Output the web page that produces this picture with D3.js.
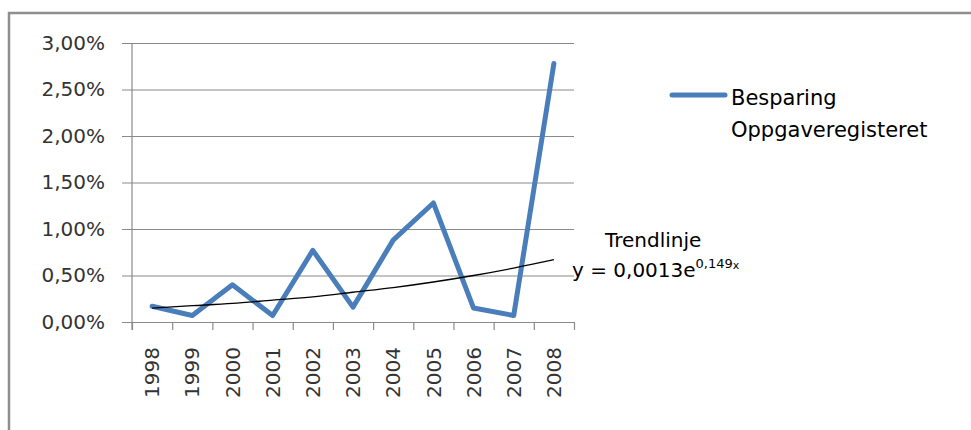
<!DOCTYPE html>
<html>
<head>
<meta charset="utf-8">
<script src="https://cdn.jsdelivr.net/npm/d3@7"></script>
<style>
  body { margin: 0; background: #fff; }
  text { font-family: "DejaVu Sans", sans-serif; }
</style>
</head>
<body>
<div id="chart"></div>
<script>
var years = ["1998", "1999", "2000", "2001", "2002", "2003", "2004", "2005", "2006", "2007", "2008"];
var besparing = [0.0017, 0.0007, 0.0040, 0.0007, 0.0077, 0.0016, 0.0088, 0.0128, 0.0015, 0.0007, 0.0278];
var trendValues = [0.0015, 0.00175, 0.0020, 0.00235, 0.0027, 0.0032, 0.0037, 0.0043, 0.0050, 0.0058, 0.0067];
var yTicks = [0, 0.005, 0.01, 0.015, 0.02, 0.025, 0.03];
var seriesName = ["Besparing", "Oppgaveregisteret"];

var svgWidth = 971;
var svgHeight = 430;
var plot = { left: 132, right: 574, top: 43, bottom: 322 };

var svg = d3.select("#chart")
  .append("svg")
  .attr("width", svgWidth)
  .attr("height", svgHeight);

// frame of the chart object (only top and left edges visible)
svg.append("path")
  .attr("d", "M9,430 V13 H971")
  .attr("fill", "none")
  .attr("stroke", "#8e8e8e")
  .attr("stroke-width", 2.5);

var locale = d3.formatLocale({ decimal: ",", thousands: " ", grouping: [3], currency: ["", " kr"] });
var pct = locale.format(".2%");

var xBand = d3.scaleBand()
  .domain(years)
  .range([plot.left, plot.right]);

var xEdge = d3.scaleLinear()
  .domain([0, years.length])
  .range([plot.left, plot.right]);

var yScale = d3.scaleLinear()
  .domain([0, 0.03])
  .range([plot.bottom, plot.top]);

// gridlines + y labels
var yAxis = svg.append("g")
  .attr("transform", `translate(${plot.left},0)`)
  .call(d3.axisLeft(yScale).tickValues(yTicks).tickFormat(pct).tickSize(0).tickPadding(27));
yAxis.select(".domain").remove();
yAxis.selectAll(".tick line").remove();
yAxis.selectAll(".tick").append("line")
  .attr("x1", -10)
  .attr("x2", plot.right - plot.left)
  .attr("stroke", "#8a8a8a")
  .attr("stroke-width", 1.2);
yAxis.selectAll("text")
  .attr("font-size", 20)
  .attr("fill", "#333");

// vertical axis line
svg.append("line")
  .attr("x1", plot.left).attr("x2", plot.left)
  .attr("y1", plot.top).attr("y2", plot.bottom + 8)
  .attr("stroke", "#8a8a8a")
  .attr("stroke-width", 1.2);

// x axis tick marks at category borders
var xTicks = svg.append("g")
  .attr("transform", `translate(0,${plot.bottom})`)
  .call(d3.axisBottom(xEdge).tickValues(d3.range(years.length + 1)).tickFormat("").tickSize(8).tickSizeOuter(0));
xTicks.select(".domain").attr("stroke", "#8a8a8a").attr("stroke-width", 1.2);
xTicks.selectAll(".tick line").attr("stroke", "#8a8a8a").attr("stroke-width", 1.2);

// x labels, rotated
var xLabels = svg.append("g")
  .attr("transform", `translate(0,${plot.bottom})`)
  .call(d3.axisBottom(xBand).tickSize(0));
xLabels.select(".domain").remove();
xLabels.selectAll("text")
  .attr("font-size", 20)
  .attr("fill", "#333")
  .attr("transform", "rotate(-90)")
  .attr("text-anchor", "end")
  .attr("x", -25)
  .attr("y", 0)
  .attr("dy", "0.36em");

// series line
var line = d3.line()
  .x((d, i) => xBand(years[i]) + xBand.bandwidth() / 2)
  .y(d => yScale(d));

svg.append("path")
  .datum(besparing)
  .attr("d", line)
  .attr("fill", "none")
  .attr("stroke", "#4a7ebb")
  .attr("stroke-width", 5)
  .attr("stroke-linejoin", "round")
  .attr("stroke-linecap", "round");

// exponential trendline
svg.append("path")
  .datum(trendValues)
  .attr("d", line.curve(d3.curveMonotoneX))
  .attr("fill", "none")
  .attr("stroke", "#000")
  .attr("stroke-width", 1.3);

// trendline label
svg.append("text")
  .attr("x", 605)
  .attr("y", 247)
  .attr("font-size", 20)
  .attr("fill", "#000")
  .text("Trendlinje");

var eq = svg.append("text")
  .attr("x", 572)
  .attr("y", 277)
  .attr("font-size", 20)
  .attr("fill", "#000");
eq.append("tspan").text("y = 0,0013e");
eq.append("tspan").attr("font-size", 13).attr("dy", -9).text("0,149");
eq.append("tspan").attr("font-size", 11).attr("dy", 1).text("x");

// legend
svg.append("line")
  .attr("x1", 672).attr("x2", 725)
  .attr("y1", 95).attr("y2", 95)
  .attr("stroke", "#4a7ebb")
  .attr("stroke-width", 5)
  .attr("stroke-linecap", "round");

svg.append("g").selectAll("text")
  .data(seriesName)
  .enter()
  .append("text")
  .attr("x", 731)
  .attr("y", (d, i) => 105 + i * 32)
  .attr("font-size", 21)
  .attr("fill", "#000")
  .text(d => d);
</script>
</body>
</html>
